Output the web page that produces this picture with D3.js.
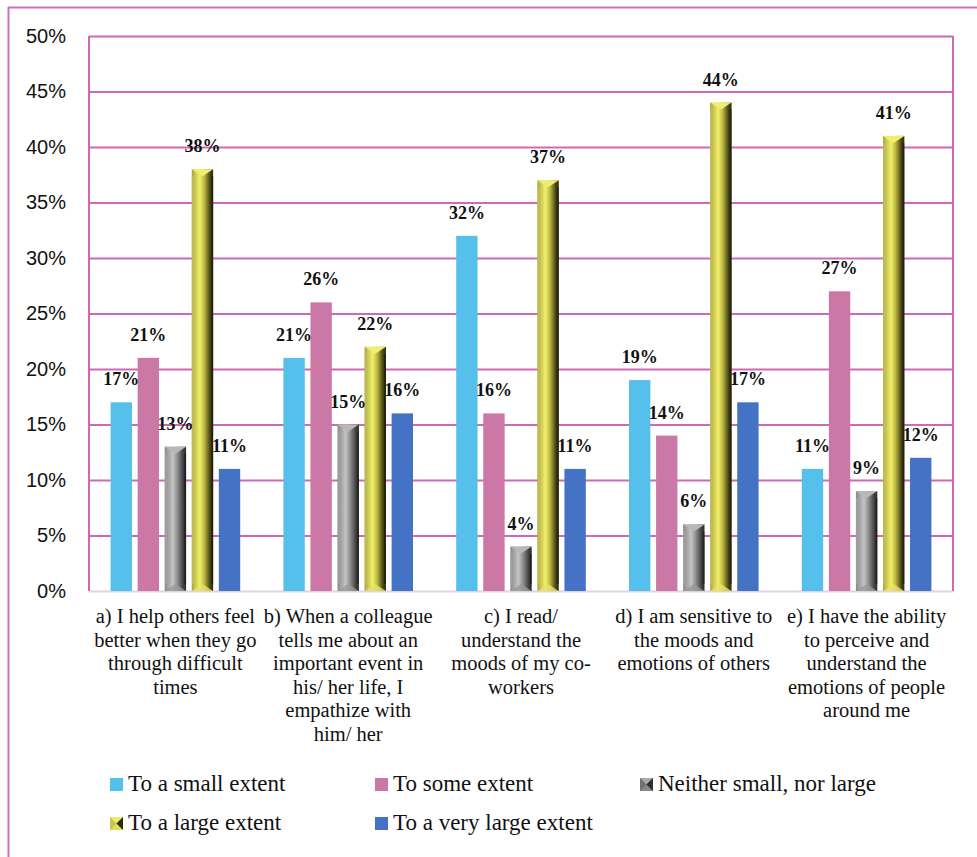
<!DOCTYPE html>
<html><head><meta charset="utf-8">
<script src="https://cdn.jsdelivr.net/npm/d3@7"></script>
<style>body{margin:0;background:#fff}svg{display:block}</style>
</head><body>
<svg id="chart" width="977" height="857"></svg>
<script>
const categories = [
  "a) I help others feel\nbetter when they go\nthrough difficult\ntimes",
  "b) When a colleague\ntells me about an\nimportant event in\nhis/ her life, I\nempathize with\nhim/ her",
  "c) I read/\nunderstand the\nmoods of my co-\nworkers",
  "d) I am sensitive to\nthe moods and\nemotions of others",
  "e) I have the ability\nto perceive and\nunderstand the\nemotions of people\naround me"
];
const seriesNames = ["To a small extent","To some extent","Neither small, nor large","To a large extent","To a very large extent"];
const smallExtent    = [17, 21, 32, 19, 11];
const someExtent     = [21, 26, 16, 14, 27];
const neitherExtent  = [13, 15, 4, 6, 9];
const largeExtent    = [38, 22, 37, 44, 41];
const veryLargeExtent= [11, 16, 11, 17, 12];
const yTicks = [0, 5, 10, 15, 20, 25, 30, 35, 40, 45, 50];

const seriesValues = [smallExtent, someExtent, neitherExtent, largeExtent, veryLargeExtent];
const seriesStyle = ["flat","flat","bevel-gray","bevel-yellow","flat"];
const flatColors = ["#55c0eb", "#cb78a6", null, null, "#4472c4"];
const SERIF = "Liberation Serif, Tinos, DejaVu Serif, serif";

const svg = d3.select("#chart");
const defs = svg.append("defs");
function grad(id, stops){
  const g = defs.append("linearGradient").attr("id", id).attr("x1","0%").attr("x2","100%").attr("y1","0%").attr("y2","0%");
  stops.forEach(s => g.append("stop").attr("offset", s[0]).attr("stop-color", s[1]));
}
grad("gGray", [["0%","#8a8a8a"],["12%","#9c9c9c"],["38%","#c4c4c4"],["60%","#8c8c8c"],["85%","#444"],["100%","#2a2a2a"]]);
grad("gYellow", [["0%","#a6a040"],["12%","#c4c050"],["38%","#f2f068"],["60%","#b8b440"],["85%","#4a4818"],["100%","#2c2a0c"]]);

// outer frame
svg.append("line").attr("x1",8.5).attr("x2",8.5).attr("y1",7).attr("y2",857).attr("stroke","#d070c0").attr("stroke-width",2);
svg.append("line").attr("x1",8).attr("x2",977).attr("y1",7.5).attr("y2",7.5).attr("stroke","#d070c0").attr("stroke-width",2);

const L = 89, R = 953, T = 36, B = 591;
const y = d3.scaleLinear().domain([0, 50]).range([B, T]);
const x0 = d3.scaleBand().domain(d3.range(categories.length)).range([L, R]).paddingInner(0.25).paddingOuter(0.125);
const x1 = d3.scaleBand().domain(d3.range(seriesNames.length)).range([0, x0.bandwidth()]).paddingInner(0.21).paddingOuter(0);

// gridlines
const yAxis = d3.axisLeft(y).tickValues(yTicks).tickSize(-(R - L)).tickFormat(d => d + "%");
const gy = svg.append("g").attr("transform", `translate(${L},0)`).call(yAxis);
gy.select(".domain").remove();
gy.selectAll(".tick line").attr("stroke", d => d === 0 ? "#e2d2e2" : "#d068b8").attr("stroke-width", 2);
gy.selectAll(".tick text").attr("x", -23).attr("font-family", "Liberation Sans, Arial, sans-serif").attr("font-size", 20).attr("fill", "#111");
// plot frame left/right
svg.append("line").attr("x1",L).attr("x2",L).attr("y1",T).attr("y2",B).attr("stroke","#d068b8").attr("stroke-width",2);
svg.append("line").attr("x1",R).attr("x2",R).attr("y1",T).attr("y2",B).attr("stroke","#d068b8").attr("stroke-width",2);

// bars
const bw = x1.bandwidth();
const bars = svg.append("g");
categories.forEach((c, ci) => {
  seriesValues.forEach((vals, si) => {
    const v = vals[ci];
    const bx = x0(ci) + x1(si);
    const by = y(v);
    const h = B - by;
    const style = seriesStyle[si];
    if (style === "flat") {
      bars.append("rect").attr("x", bx).attr("y", by).attr("width", bw).attr("height", h).attr("fill", flatColors[si]);
    } else {
      const isGray = style === "bevel-gray";
      bars.append("rect").attr("x", bx).attr("y", by).attr("width", bw).attr("height", h).attr("fill", isGray ? "url(#gGray)" : "url(#gYellow)");
      const bev = Math.min(7, h / 2);
      const topC = isGray ? "#b8b8b8" : "#f0ee70";
      const botC = isGray ? "#9a9a9a" : "#e8e468";
      bars.append("polygon").attr("points", [[bx, by], [bx + bw, by], [bx + bw / 2, by + bev]].map(p => p.join(",")).join(" ")).attr("fill", topC);
      bars.append("polygon").attr("points", [[bx, B], [bx + bw, B], [bx + bw / 2, B - bev]].map(p => p.join(",")).join(" ")).attr("fill", botC).attr("opacity", 0.8);
      bars.append("rect").attr("x", bx).attr("y", by + bev).attr("width", 2).attr("height", Math.max(0, h - 2 * bev)).attr("fill", isGray ? "#a8a8a8" : "#c8c45a").attr("opacity", 0.6);
      bars.append("rect").attr("x", bx + bw - 2).attr("y", by + bev).attr("width", 2).attr("height", Math.max(0, h - 2 * bev)).attr("fill", isGray ? "#1e1e1e" : "#201e08").attr("opacity", 0.7);
    }
    svg.append("text").attr("x", bx + bw / 2).attr("y", by - 17).attr("text-anchor", "middle")
      .style("font-family", SERIF).attr("font-weight", "bold").attr("font-size", 18).attr("fill", "#111")
      .text(v + "%");
  });
});

// category labels
categories.forEach((c, ci) => {
  const t = svg.append("text").attr("text-anchor", "middle").style("font-family", SERIF).attr("font-size", 20.5).attr("fill", "#111");
  c.split("\n").forEach((line, li) => {
    t.append("tspan").attr("x", x0(ci) + x0.bandwidth() / 2).attr("y", 623 + li * 23.5).text(line);
  });
});

// legend
const legendPos = [[110, 778], [375, 778], [640, 778], [110, 817], [375, 817]];
seriesNames.forEach((name, si) => {
  const [lx, ly] = legendPos[si];
  const g = svg.append("g");
  if (seriesStyle[si] === "flat") {
    g.append("rect").attr("x", lx).attr("y", ly).attr("width", 13).attr("height", 13).attr("fill", flatColors[si]);
  } else {
    const isGray = seriesStyle[si] === "bevel-gray";
    g.append("rect").attr("x", lx).attr("y", ly).attr("width", 13).attr("height", 13).attr("fill", isGray ? "#707070" : "#c8c450");
    g.append("polygon").attr("points", `${lx},${ly} ${lx+13},${ly} ${lx+6.5},${ly+6.5}`).attr("fill", isGray ? "#a8a8a8" : "#ecea70");
    g.append("polygon").attr("points", `${lx},${ly+13} ${lx+13},${ly+13} ${lx+6.5},${ly+6.5}`).attr("fill", isGray ? "#8a8a8a" : "#e0dc60");
    g.append("polygon").attr("points", `${lx+13},${ly} ${lx+13},${ly+13} ${lx+6.5},${ly+6.5}`).attr("fill", isGray ? "#2e2e2e" : "#2e2c0c");
  }
  g.append("text").attr("x", lx + 18).attr("y", ly + 13).style("font-family", SERIF).attr("font-size", 23).attr("fill", "#111").text(name);
});
</script>
</body></html>
